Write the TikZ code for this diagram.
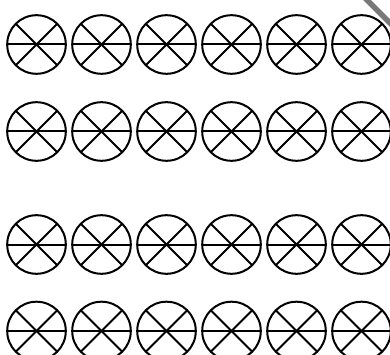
\documentclass[tikz,border=0pt]{standalone}
\usepackage{tikz}
\definecolor{cornergray}{RGB}{120,120,120}
\newcommand{\sixwheel}[2]{%
  \draw[wline] (#1,#2) circle (29.3);
  \draw[wline] (#1-29.3,#2) -- (#1+29.3,#2);
  \draw[wline] (#1,#2) +(135:29.3) -- +(-45:29.3);
  \draw[wline] (#1,#2) +(45:29.3) -- +(-135:29.3);}
\tikzset{
  wline/.style={black, line width=2pt},
  fold/.style={cornergray, line width=5.5pt},
}

\begin{document}
\begin{tikzpicture}[x=1pt,y=-1pt]
\useasboundingbox (0,0) rectangle (390,355);
\fill[white] (0,0) rectangle (390,355);
\foreach \rowy in {44.5,131.5,244.5,331}{
  \foreach \colx in {36.5,101.5,166.5,231.5,296.5,361.5}{
    \sixwheel{\colx}{\rowy}
  }
}
\draw[fold] (365,-2) -- (393,26);
\end{tikzpicture}
\end{document}
